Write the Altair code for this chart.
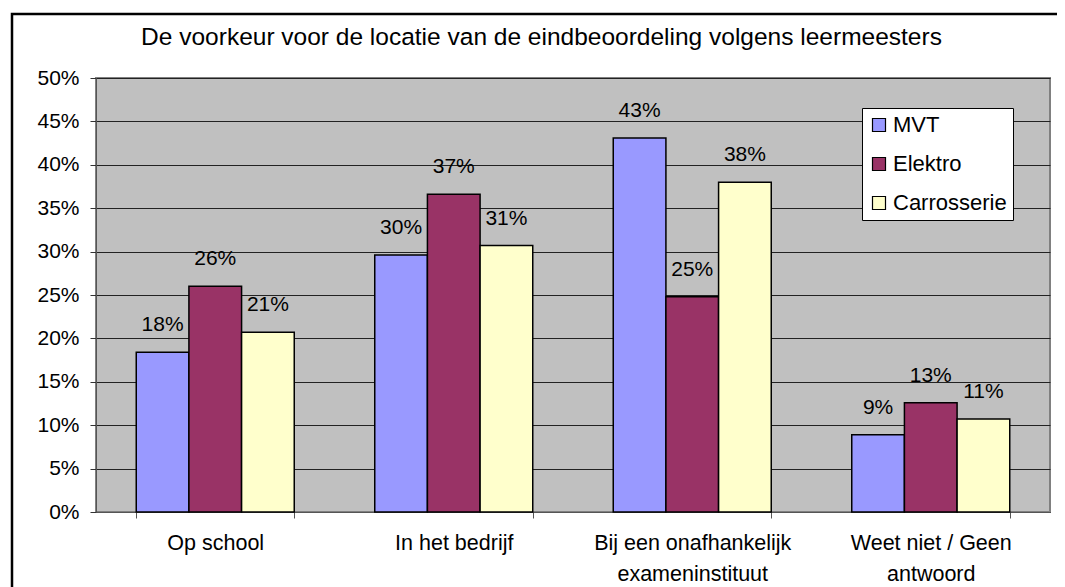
import altair as alt
import pandas as pd

categories = ["Op school", "In het bedrijf", "Bij een onafhankelijk exameninstituut", "Weet niet / Geen antwoord"]
series = ["MVT", "Elektro", "Carrosserie"]
mvt = [18.4, 29.6, 43.1, 8.9]
elektro = [26.0, 36.6, 24.8, 12.6]
carrosserie = [20.7, 30.7, 38.0, 10.7]
colors = ["#9999FF", "#993366", "#FFFFCC"]
title_text = "De voorkeur voor de locatie van de eindbeoordeling volgens leermeesters"

rows = []
for s, vals in zip(series, [mvt, elektro, carrosserie]):
    for c, v in zip(categories, vals):
        rows.append({"categorie": c, "sector": s, "waarde": v, "label": f"{round(v)}%"})
df = pd.DataFrame(rows)

FONT = "Liberation Sans"
W, H = 954, 434

label_expr = (
    "datum.value == 'Bij een onafhankelijk exameninstituut' ? ['Bij een onafhankelijk', 'exameninstituut'] : "
    "datum.value == 'Weet niet / Geen antwoord' ? ['Weet niet / Geen', 'antwoord'] : datum.value"
)

x_enc = alt.X(
    "categorie:N",
    sort=categories,
    scale=alt.Scale(paddingInner=0.3375, paddingOuter=0.16875),
    axis=alt.Axis(
        title=None, labelAngle=0, labelExpr=label_expr, labelFont=FONT, labelFontSize=21.5,
        labelColor="black", labelLineHeight=31, labelPadding=14, tickSize=6, tickBand="extent",
        tickColor="#555555", domainColor="#555555", domainWidth=1, labelBaseline="top",
        labelLimit=0,
    ),
)
y_enc = alt.Y(
    "waarde:Q",
    scale=alt.Scale(domain=[0, 50]),
    axis=alt.Axis(
        title=None, values=list(range(0, 55, 5)), labelExpr="datum.value + '%'",
        labelFont=FONT, labelFontSize=21, labelColor="black", labelPadding=11,
        tickSize=6, tickColor="#333333", domainColor="#555555", gridColor="#222222",
        gridWidth=1, grid=True,
    ),
)
xoff = alt.XOffset("sector:N", sort=series, scale=alt.Scale(paddingInner=0, paddingOuter=0))

bars = alt.Chart(df).mark_bar(stroke="black", strokeWidth=1.5).encode(
    x=x_enc,
    xOffset=xoff,
    y=y_enc,
    color=alt.Color(
        "sector:N", sort=series, scale=alt.Scale(domain=series, range=colors),
        legend=alt.Legend(
            title=None, orient="none", legendX=766, legendY=30, fillColor="white",
            strokeColor="black", padding=6, symbolType="square", symbolSize=169,
            symbolStrokeColor="black", symbolStrokeWidth=1.2, labelFont=FONT,
            labelFontSize=22, labelColor="black", rowPadding=17, labelOffset=3,
            symbolOpacity=1,
        ),
    ),
)

labels = alt.Chart(df).mark_text(
    font=FONT, fontSize=21, color="black", baseline="middle", dy=-27
).encode(
    x=alt.X("categorie:N", sort=categories),
    xOffset=xoff,
    y=alt.Y("waarde:Q"),
    text="label:N",
)

frame = alt.Chart(pd.DataFrame({"a": [0]})).mark_rect(
    fill=None, stroke="black", strokeWidth=2.5
).encode(
    x=alt.value(-84), x2=alt.value(1000), y=alt.value(-64), y2=alt.value(600)
)

title = alt.Chart(pd.DataFrame({"t": [title_text]})).mark_text(
    font=FONT, fontSize=24.5, color="black", baseline="middle", align="center"
).encode(
    x=alt.value(445.5), y=alt.value(-40), text="t:N"
)

chart = alt.layer(frame, bars, labels, title).properties(
    width=W, height=H,
    autosize=alt.AutoSizeParams(type="none"),
    padding={"left": 88, "top": 70, "right": 7, "bottom": 75},
    background="white",
).configure_view(
    fill="#C0C0C0", stroke="#808080", strokeWidth=2
)

chart.save("out.html", embed_options={"renderer": "svg", "actions": False})
